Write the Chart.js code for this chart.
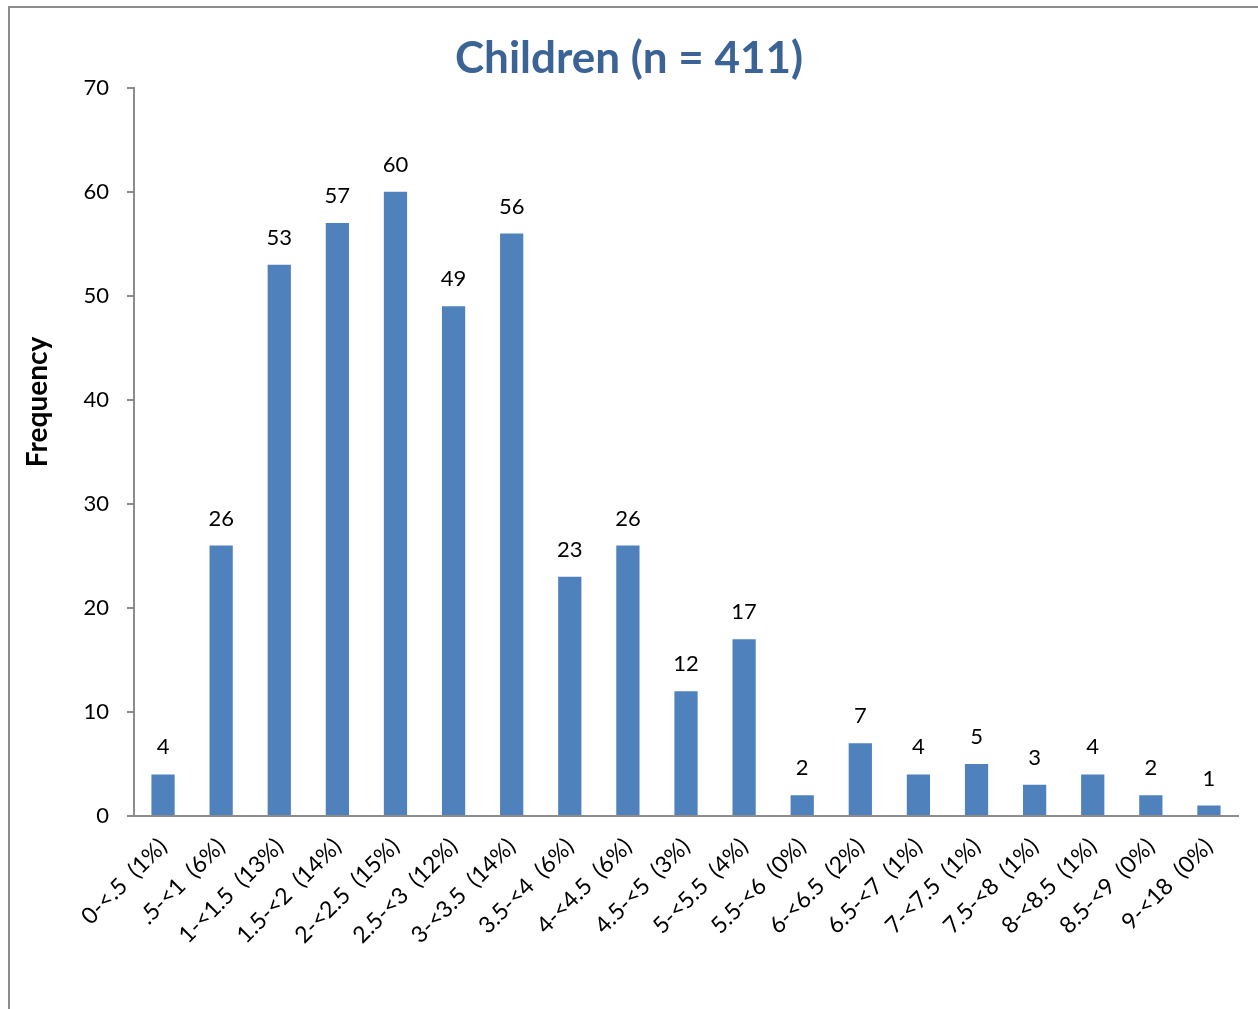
<!DOCTYPE html>
<html>
<head>
    <meta charset="UTF-8">
    <title>Children (n = 411)</title>
    <script src="https://cdn.jsdelivr.net/npm/chart.js"></script>
    <style>
        body {
            margin: 0;
            background-color: #ffffff;
        }

        .chart-box {
            position: absolute;
            left: 0;
            top: 0;
            width: 1258px;
            height: 1009px;
        }
    </style>
</head>
<body>
    <div class="chart-box">
        <canvas id="childrenChart" width="1258" height="1009"></canvas>
    </div>

    <script>
        var binLabels = ['0-<.5  (1%)', '.5-<1  (6%)', '1-<1.5  (13%)', '1.5-<2  (14%)', '2-<2.5  (15%)',
            '2.5-<3  (12%)', '3-<3.5  (14%)', '3.5-<4  (6%)', '4-<4.5  (6%)', '4.5-<5  (3%)',
            '5-<5.5  (4%)', '5.5-<6  (0%)', '6-<6.5  (2%)', '6.5-<7  (1%)', '7-<7.5  (1%)',
            '7.5-<8  (1%)', '8-<8.5  (1%)', '8.5-<9  (0%)', '9-<18  (0%)'];
        var frequencies = [4, 26, 53, 57, 60, 49, 56, 23, 26, 12, 17, 2, 7, 4, 5, 3, 4, 2, 1];
        var yTicks = [0, 10, 20, 30, 40, 50, 60, 70];

        var fontFamily = "Lato, 'Open Sans', sans-serif";

        // frame around the whole chart (cut off on the right and bottom like the source)
        // plus the y axis title, which sits a bit above the middle of the axis
        var framePlugin = {
            id: 'frame',
            beforeDraw: function (chart) {
                var ctx = chart.ctx;
                ctx.save();
                ctx.strokeStyle = '#8c8c8c';
                ctx.lineWidth = 2;
                ctx.strokeRect(9, 7, 1300, 1100);
                ctx.translate(38, 402);
                ctx.rotate(-Math.PI / 2);
                ctx.font = 'bold 28px ' + fontFamily;
                ctx.fillStyle = '#000000';
                ctx.textAlign = 'center';
                ctx.textBaseline = 'middle';
                ctx.fillText('Frequency', 0, 0);
                ctx.restore();
            }
        };

        // value labels above each bar
        var valueLabels = {
            id: 'valueLabels',
            afterDatasetsDraw: function (chart) {
                var ctx = chart.ctx;
                var meta = chart.getDatasetMeta(0);
                ctx.save();
                ctx.font = '22px ' + fontFamily;
                ctx.fillStyle = '#000000';
                ctx.textAlign = 'center';
                ctx.textBaseline = 'middle';
                meta.data.forEach(function (bar, i) {
                    ctx.fillText(String(frequencies[i]), bar.x, bar.y - 27);
                });
                ctx.restore();
            }
        };

        var ctx = document.getElementById('childrenChart').getContext('2d');
        var chart = new Chart(ctx, {
            type: 'bar',
            data: {
                labels: binLabels,
                datasets: [{
                    data: frequencies,
                    backgroundColor: '#4F81BD',
                    borderWidth: 0,
                    categoryPercentage: 1.0,
                    barPercentage: 0.4
                }]
            },
            options: {
                responsive: false,
                animation: false,
                layout: {
                    padding: { left: 20, right: 20, top: 0, bottom: 0 }
                },
                plugins: {
                    legend: { display: false },
                    tooltip: { enabled: false },
                    title: {
                        display: true,
                        text: 'Children (n = 411)',
                        color: '#3B6396',
                        font: { family: fontFamily, size: 44, weight: 'bold', lineHeight: 1.2 },
                        padding: { top: 32, bottom: 3 }
                    }
                },
                scales: {
                    x: {
                        grid: { display: false },
                        border: { display: true, color: '#8c8c8c', width: 2 },
                        ticks: {
                            color: '#000000',
                            font: { family: fontFamily, size: 23 },
                            maxRotation: 45,
                            minRotation: 45,
                            autoSkip: false,
                            padding: 9
                        },
                        afterFit: function (scale) {
                            scale.height = 193;
                        }
                    },
                    y: {
                        min: 0,
                        max: 70,
                        afterBuildTicks: function (scale) {
                            scale.ticks = yTicks.map(function (v) { return { value: v }; });
                        },
                        grid: {
                            drawOnChartArea: false,
                            drawTicks: true,
                            tickLength: 7,
                            color: '#8c8c8c',
                            lineWidth: 2
                        },
                        border: { display: true, color: '#8c8c8c', width: 2 },
                        ticks: {
                            color: '#000000',
                            font: { family: fontFamily, size: 22 },
                            padding: 18
                        },
                        afterFit: function (scale) {
                            scale.width = 114;
                        }
                    }
                }
            },
            plugins: [framePlugin, valueLabels]
        });
    </script>
</body>
</html>
